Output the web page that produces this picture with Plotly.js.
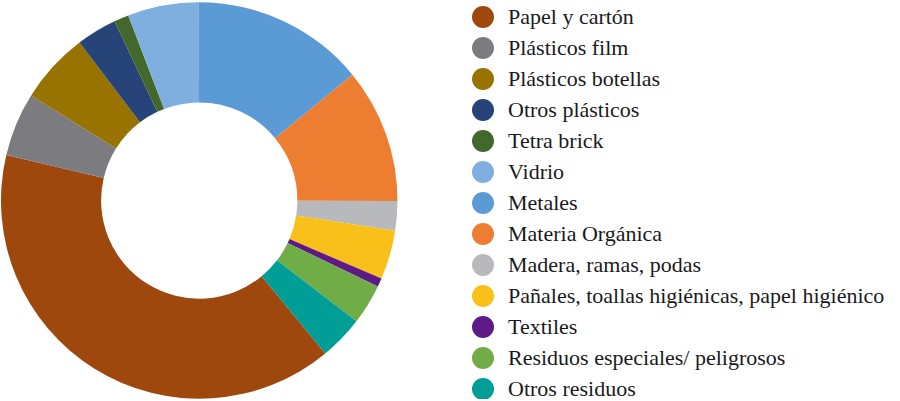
<!DOCTYPE html>
<html>
<head>
<meta charset="utf-8">
<script src="https://cdn.plot.ly/plotly-3.0.1.min.js"></script>
<style>html,body{margin:0;padding:0;background:#fff;}</style>
</head>
<body>
<div id="chart" style="width:900px;height:401px"></div>
<script>
const categories = [
  "Papel y cartón",
  "Plásticos film",
  "Plásticos botellas",
  "Otros plásticos",
  "Tetra brick",
  "Vidrio",
  "Metales",
  "Materia Orgánica",
  "Madera, ramas, podas",
  "Pañales, toallas higiénicas, papel higiénico",
  "Textiles",
  "Residuos especiales/ peligrosos",
  "Otros residuos"
];
const values = [39.7, 5.2, 5.8, 3.3, 1.2, 5.8, 14.1, 11.0, 2.4, 4.0, 0.7, 3.3, 3.6];
const colors = [
  "#9E480E", "#7B7B80", "#997300", "#264478", "#43682B", "#7FAFDF",
  "#5B9BD5", "#ED7D31", "#B8B9BC", "#F9C01A", "#5E1B88", "#70AD47", "#009E97"
];

const pie = {
  type: "pie",
  labels: categories,
  values: values,
  sort: false,
  direction: "clockwise",
  rotation: 140.5,
  hole: 0.495,
  marker: {colors: colors, line: {width: 0}},
  textinfo: "none",
  hoverinfo: "label+percent",
  showlegend: false,
  domain: {x: [0, 0.441], y: [0, 1]}
};

const idx = categories.map((c, i) => i);
const legendDots = {
  type: "scatter",
  mode: "markers",
  x: categories.map(() => 482),
  y: idx,
  marker: {color: colors, size: 22, line: {width: 0}},
  hoverinfo: "skip",
  showlegend: false,
  xaxis: "x",
  yaxis: "y"
};

const annotations = categories.map((c, i) => ({
  text: c,
  x: 506,
  y: i,
  xref: "x",
  yref: "y",
  xanchor: "left",
  yanchor: "middle",
  yshift: 0.5,
  borderpad: 0,
  showarrow: false,
  font: {family: "Liberation Serif", size: 22, color: "#1a1a1a"}
}));

const layout = {
  width: 900,
  height: 401,
  margin: {l: 1, r: 0, t: 2, b: 2, pad: 0},
  paper_bgcolor: "#ffffff",
  plot_bgcolor: "rgba(0,0,0,0)",
  showlegend: false,
  xaxis: {range: [0, 899], domain: [0, 1], visible: false, fixedrange: true},
  yaxis: {range: [12.322, -0.484], domain: [0, 1], visible: false, fixedrange: true},
  annotations: annotations
};

Plotly.newPlot("chart", [pie, legendDots], layout, {displayModeBar: false, staticPlot: true});
</script>
</body>
</html>
